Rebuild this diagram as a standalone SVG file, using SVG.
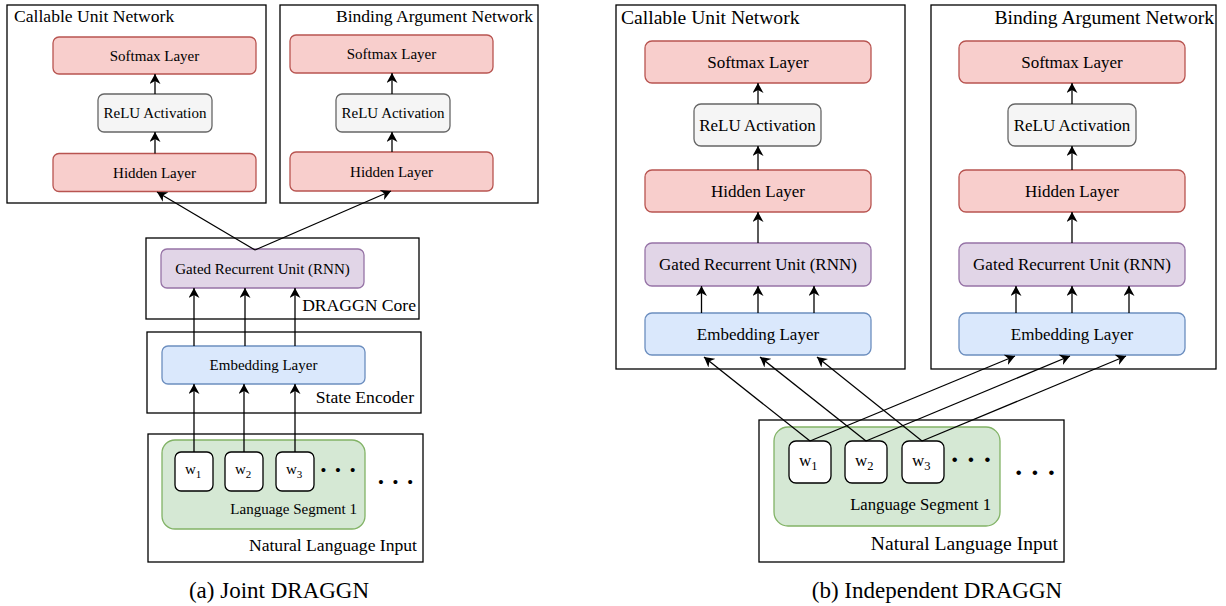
<svg xmlns="http://www.w3.org/2000/svg" width="1226" height="606" viewBox="0 0 1226 606">
<style>
text{font-family:"Liberation Serif","Times New Roman",serif;fill:#000}
.box{fill:#fff;stroke:#000;stroke-width:1.3}
.red{fill:#f8cecc;stroke:#b85450;stroke-width:1.3}
.grey{fill:#f5f5f5;stroke:#666;stroke-width:1.3}
.pur{fill:#e1d5e7;stroke:#9673a6;stroke-width:1.3}
.blue{fill:#dae8fc;stroke:#6c8ebf;stroke-width:1.3}
.green{fill:#d5e8d4;stroke:#82b366;stroke-width:1.3}
.w{fill:#fff;stroke:#000;stroke-width:1.3}
.c{text-anchor:middle;dominant-baseline:central}
.l15{font-size:15px}
.l17{font-size:17px}
.t1{font-size:17.6px}
.t2{font-size:19.6px}
.e{text-anchor:end}
.cap{font-size:23px;text-anchor:middle}
.dots{font-weight:bold;text-anchor:middle}
.con line{stroke:#000;stroke-width:1.3;fill:none;marker-end:url(#arr)}
</style>
<defs>
<marker id="arr" viewBox="0 0 10 11" refX="10" refY="5.5" markerWidth="10" markerHeight="11" markerUnits="userSpaceOnUse" orient="auto">
<path d="M0,0 L10,5.5 L0,11 L3,5.5 z" fill="#000"/>
</marker>
</defs>

<!-- (a) Joint DRAGGN -->
<g id="a-callable">
<rect class="box" x="7" y="5" width="259" height="198"/>
<text class="t1" x="14" y="22">Callable Unit Network</text>
</g>
<g id="a-cu-softmax"><rect class="red" x="53" y="37" width="203" height="37" rx="6"/><text class="c l15" x="154.5" y="55.5">Softmax Layer</text></g>
<g id="a-cu-relu"><rect class="grey" x="98" y="94" width="114" height="38" rx="6"/><text class="c l15" x="155" y="113">ReLU Activation</text></g>
<g id="a-cu-hidden"><rect class="red" x="53" y="153.5" width="203" height="38" rx="6"/><text class="c l15" x="154.5" y="172.5">Hidden Layer</text></g>

<g id="a-binding">
<rect class="box" x="280" y="5" width="258" height="198"/>
<text class="t1 e" x="533" y="22">Binding Argument Network</text>
</g>
<g id="a-ba-softmax"><rect class="red" x="290" y="35" width="203" height="38" rx="6"/><text class="c l15" x="391.5" y="54">Softmax Layer</text></g>
<g id="a-ba-relu"><rect class="grey" x="336" y="94" width="114" height="38" rx="6"/><text class="c l15" x="393" y="113">ReLU Activation</text></g>
<g id="a-ba-hidden"><rect class="red" x="290" y="152" width="203" height="39" rx="6"/><text class="c l15" x="391.5" y="171.5">Hidden Layer</text></g>

<g id="a-core">
<rect class="box" x="146" y="238" width="273" height="81"/>
<text class="t1 e" x="416" y="311">DRAGGN Core</text>
</g>
<g id="a-gru"><rect class="pur" x="161" y="249" width="203" height="39" rx="6"/><text class="c l15" x="262.5" y="268.5">Gated Recurrent Unit (RNN)</text></g>

<g id="a-encoder">
<rect class="box" x="147" y="332" width="274" height="81"/>
<text class="t1 e" x="414" y="403">State Encoder</text>
</g>
<g id="a-embed"><rect class="blue" x="162" y="346" width="203" height="38" rx="6"/><text class="c l15" x="263.5" y="365">Embedding Layer</text></g>

<g id="a-input">
<rect class="box" x="148" y="434" width="275" height="128"/>
<text class="t1 e" x="417" y="551">Natural Language Input</text>
<text class="dots" x="395.5" y="489.5" style="font-size:25px">· · ·</text>
</g>
<g id="a-segment">
<rect class="green" x="162" y="440" width="203" height="89" rx="13"/>
<text class="l15 e" x="357" y="514">Language Segment 1</text>
<text class="dots" x="338" y="478" style="font-size:25px">· · ·</text>
</g>
<g id="a-w1"><rect class="w" x="175" y="452" width="38" height="39" rx="6"/><text class="l15" x="185" y="474">w<tspan dy="4" style="font-size:11px">1</tspan></text></g>
<g id="a-w2"><rect class="w" x="225" y="452" width="38" height="39" rx="6"/><text class="l15" x="235" y="474">w<tspan dy="4" style="font-size:11px">2</tspan></text></g>
<g id="a-w3"><rect class="w" x="276" y="452" width="38" height="39" rx="6"/><text class="l15" x="286" y="474">w<tspan dy="4" style="font-size:11px">3</tspan></text></g>

<text class="cap" x="279" y="598">(a) Joint DRAGGN</text>

<!-- (b) Independent DRAGGN -->
<g id="b-callable">
<rect class="box" x="616" y="5" width="289" height="364"/>
<text class="t2" x="621" y="24">Callable Unit Network</text>
</g>
<g id="b-cu-softmax"><rect class="red" x="645" y="41" width="226" height="42" rx="7"/><text class="c l17" x="758" y="62">Softmax Layer</text></g>
<g id="b-cu-relu"><rect class="grey" x="694" y="104" width="127" height="42" rx="7"/><text class="c l17" x="757.5" y="125">ReLU Activation</text></g>
<g id="b-cu-hidden"><rect class="red" x="645" y="170" width="226" height="42" rx="7"/><text class="c l17" x="758" y="191">Hidden Layer</text></g>
<g id="b-cu-gru"><rect class="pur" x="645" y="243" width="226" height="43" rx="7"/><text class="c l17" x="758" y="264.5">Gated Recurrent Unit (RNN)</text></g>
<g id="b-cu-embed"><rect class="blue" x="645" y="313" width="226" height="42" rx="7"/><text class="c l17" x="758" y="334">Embedding Layer</text></g>

<g id="b-binding">
<rect class="box" x="931" y="5" width="285" height="364"/>
<text class="t2 e" x="1214" y="24">Binding Argument Network</text>
</g>
<g id="b-ba-softmax"><rect class="red" x="959" y="41" width="226" height="42" rx="7"/><text class="c l17" x="1072" y="62">Softmax Layer</text></g>
<g id="b-ba-relu"><rect class="grey" x="1008" y="104" width="128" height="42" rx="7"/><text class="c l17" x="1072" y="125">ReLU Activation</text></g>
<g id="b-ba-hidden"><rect class="red" x="959" y="170" width="226" height="42" rx="7"/><text class="c l17" x="1072" y="191">Hidden Layer</text></g>
<g id="b-ba-gru"><rect class="pur" x="959" y="243" width="226" height="43" rx="7"/><text class="c l17" x="1072" y="264.5">Gated Recurrent Unit (RNN)</text></g>
<g id="b-ba-embed"><rect class="blue" x="959" y="313" width="226" height="42" rx="7"/><text class="c l17" x="1072" y="334">Embedding Layer</text></g>

<g id="b-input">
<rect class="box" x="759" y="420" width="305" height="142"/>
<text class="t2 e" x="1058" y="550">Natural Language Input</text>
<text class="dots" x="1035" y="482" style="font-size:28px">· · ·</text>
</g>
<g id="b-segment">
<rect class="green" x="774" y="427" width="226" height="99" rx="14"/>
<text class="e" x="991" y="510" style="font-size:16.7px">Language Segment 1</text>
<text class="dots" x="971" y="469" style="font-size:28px">· · ·</text>
</g>
<g id="b-w1"><rect class="w" x="789" y="441" width="42" height="42" rx="7"/><text class="l17" x="799" y="466">w<tspan dy="4" style="font-size:12.5px">1</tspan></text></g>
<g id="b-w2"><rect class="w" x="845" y="441" width="42" height="42" rx="7"/><text class="l17" x="855" y="466">w<tspan dy="4" style="font-size:12.5px">2</tspan></text></g>
<g id="b-w3"><rect class="w" x="902" y="441" width="42" height="42" rx="7"/><text class="l17" x="912" y="466">w<tspan dy="4" style="font-size:12.5px">3</tspan></text></g>

<text class="cap" x="937" y="598">(b) Independent DRAGGN</text>

<g id="connectors" class="con">
<!-- (a) -->
<line x1="155" y1="153.5" x2="155" y2="132"/>
<line x1="155" y1="94" x2="155" y2="74"/>
<line x1="392" y1="152" x2="392" y2="132"/>
<line x1="392" y1="94" x2="392" y2="73"/>
<line x1="255" y1="250" x2="157" y2="192"/>
<line x1="255" y1="250" x2="391" y2="191"/>
<line x1="194" y1="346" x2="194" y2="288"/>
<line x1="245" y1="346" x2="245" y2="288"/>
<line x1="295" y1="346" x2="295" y2="288"/>
<line x1="194" y1="452" x2="194" y2="384"/>
<line x1="244" y1="452" x2="244" y2="384"/>
<line x1="295" y1="452" x2="295" y2="384"/>
<!-- (b) -->
<line x1="758" y1="104" x2="758" y2="83"/>
<line x1="758" y1="170" x2="758" y2="146"/>
<line x1="758" y1="243" x2="758" y2="212"/>
<line x1="701.5" y1="313" x2="701.5" y2="286"/>
<line x1="758" y1="313" x2="758" y2="286"/>
<line x1="814" y1="313" x2="814" y2="286"/>
<line x1="1072" y1="104" x2="1072" y2="83"/>
<line x1="1072" y1="170" x2="1072" y2="146"/>
<line x1="1072" y1="243" x2="1072" y2="212"/>
<line x1="1016" y1="313" x2="1016" y2="286"/>
<line x1="1072" y1="313" x2="1072" y2="286"/>
<line x1="1129" y1="313" x2="1129" y2="286"/>
<line x1="810" y1="441" x2="704" y2="357"/>
<line x1="866" y1="441" x2="760" y2="357"/>
<line x1="922" y1="441" x2="817" y2="357"/>
<line x1="810" y1="441" x2="1015" y2="356"/>
<line x1="866" y1="441" x2="1070" y2="356"/>
<line x1="922" y1="441" x2="1126" y2="356"/>
</g>
</svg>
